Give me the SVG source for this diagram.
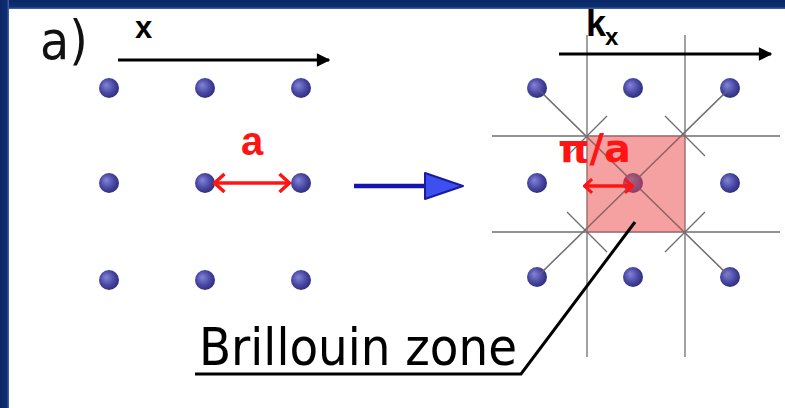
<svg xmlns="http://www.w3.org/2000/svg" width="785" height="408" viewBox="0 0 785 408">
<style>
.dot{fill:url(#dotg)}
.grid{stroke:#6e6e6e;stroke-width:1.3;fill:none}
.lbl{font-family:"Liberation Sans",Arial,sans-serif;font-weight:bold}
.red{fill:#ff1414}
.blk{stroke:#000;stroke-width:3;fill:none}
.redl{stroke:#ff1414;stroke-width:3.5;fill:none}
</style>
<defs>
<radialGradient id="dotg" cx="0.45" cy="0.45" r="0.6" fx="0.35" fy="0.35">
<stop offset="0" stop-color="#8484d8"/>
<stop offset="0.6" stop-color="#4848a4"/>
<stop offset="1" stop-color="#2a2a72"/>
</radialGradient>
<linearGradient id="topg" x1="0" y1="0" x2="0" y2="1">
<stop offset="0" stop-color="#0a2766"/>
<stop offset="0.75" stop-color="#0e2f72"/>
<stop offset="1" stop-color="#4a6aa6"/>
</linearGradient>
<linearGradient id="leftg" x1="0" y1="0" x2="1" y2="0">
<stop offset="0" stop-color="#0a2766"/>
<stop offset="0.75" stop-color="#0e2f72"/>
<stop offset="1" stop-color="#4a6aa6"/>
</linearGradient>
<marker id="ah" viewBox="0 0 10 10" refX="9" refY="5" markerWidth="5" markerHeight="4.5" orient="auto" markerUnits="strokeWidth">
<path d="M0,0 L10,5 L0,10 z" fill="#000"/>
</marker>
<marker id="rh" viewBox="0 0 14 22" refX="12.5" refY="11" markerWidth="14" markerHeight="22" orient="auto-start-reverse" markerUnits="userSpaceOnUse">
<path d="M2,2 L12,11 L2,20" fill="none" stroke="#ff1414" stroke-width="3.5" stroke-linejoin="miter"/>
</marker>
<marker id="rh2" viewBox="0 0 14 22" refX="12.5" refY="11" markerWidth="11" markerHeight="17" orient="auto-start-reverse" markerUnits="userSpaceOnUse">
<path d="M2,2 L12,11 L2,20" fill="none" stroke="#ff1414" stroke-width="4" stroke-linejoin="miter"/>
</marker>
</defs>
<rect x="0" y="0" width="785" height="408" fill="#fff"/>
<rect x="0" y="0" width="785" height="9" fill="url(#topg)"/>
<rect x="0" y="0" width="9" height="408" fill="url(#leftg)"/>

<text x="40" y="59" font-family="DejaVu Sans Condensed,DejaVu Sans,sans-serif" font-size="53" fill="#111">a)</text>

<g id="real-lattice">
<ellipse class="dot" cx="109" cy="88" rx="10" ry="10"/>
<ellipse class="dot" cx="205" cy="88" rx="10" ry="10"/>
<ellipse class="dot" cx="301" cy="88" rx="10" ry="10"/>
<ellipse class="dot" cx="109" cy="183" rx="10" ry="10"/>
<ellipse class="dot" cx="205" cy="183" rx="10" ry="10"/>
<ellipse class="dot" cx="301" cy="183" rx="10" ry="10"/>
<ellipse class="dot" cx="109" cy="280" rx="10" ry="10"/>
<ellipse class="dot" cx="205" cy="280" rx="10" ry="10"/>
<ellipse class="dot" cx="301" cy="280" rx="10" ry="10"/>
</g>

<g id="reciprocal-lattice">
<g class="grid">
<line x1="587" y1="35" x2="587" y2="357"/>
<line x1="685" y1="35" x2="685" y2="357"/>
<line x1="492" y1="136" x2="780" y2="136"/>
<line x1="492" y1="232" x2="780" y2="232"/>
<line x1="537" y1="88" x2="730" y2="277"/>
<line x1="730" y1="88" x2="537" y2="277"/>
<line x1="567" y1="156" x2="607" y2="116"/>
<line x1="665" y1="116" x2="705" y2="156"/>
<line x1="567" y1="212" x2="607" y2="252"/>
<line x1="665" y1="252" x2="705" y2="212"/>
</g>
<ellipse class="dot" cx="537" cy="88" rx="10" ry="10"/>
<ellipse class="dot" cx="633" cy="88" rx="10" ry="10"/>
<ellipse class="dot" cx="730" cy="88" rx="10" ry="10"/>
<ellipse class="dot" cx="537" cy="183" rx="10" ry="10"/>
<ellipse class="dot" cx="633" cy="183" rx="10" ry="10"/>
<ellipse class="dot" cx="730" cy="183" rx="10" ry="10"/>
<ellipse class="dot" cx="537" cy="277" rx="10" ry="10"/>
<ellipse class="dot" cx="633" cy="277" rx="10" ry="10"/>
<ellipse class="dot" cx="730" cy="277" rx="10" ry="10"/>
</g>

<g id="brillouin-zone">
<rect x="587" y="136" width="98" height="96" fill="#ee4a4a" fill-opacity="0.52"/>
<line x1="537" y1="88" x2="730" y2="277" stroke="#6e6e6e" stroke-width="1.3" stroke-opacity="0.6"/>
<line x1="730" y1="88" x2="537" y2="277" stroke="#6e6e6e" stroke-width="1.3" stroke-opacity="0.6"/>
</g>

<g id="connectors">
<line class="blk" x1="118" y1="60" x2="329" y2="60" marker-end="url(#ah)"/>
<line class="blk" x1="559" y1="54" x2="771" y2="54" marker-end="url(#ah)"/>
<line class="redl" x1="214" y1="183" x2="290" y2="183" marker-start="url(#rh)" marker-end="url(#rh)"/>
<line class="redl" x1="584" y1="186" x2="633" y2="186" marker-start="url(#rh2)" marker-end="url(#rh2)"/>
<line x1="354" y1="186" x2="426" y2="186" stroke="#1414b4" stroke-width="4.5"/>
<path d="M425,173 L463,186 L425,199 z" fill="#3c50f0" stroke="#1a1aa0" stroke-width="2" stroke-linejoin="round"/>
<polyline points="195,374 521,374 635,222" fill="none" stroke="#000" stroke-width="3"/>
</g>

<g id="labels">
<text class="lbl" x="135" y="38" font-size="31" fill="#000">x</text>
<text class="lbl red" x="241" y="155" font-size="40">a</text>
<text class="lbl" x="586" y="36" font-size="36" fill="#000">k</text>
<text class="lbl" x="605" y="45" font-size="24" fill="#000">x</text>
<text x="558" y="162" font-family="DejaVu Sans,sans-serif" font-weight="bold" font-size="39" fill="#ff1414" textLength="73" lengthAdjust="spacingAndGlyphs">π/a</text>
<text x="199" y="365" font-family="DejaVu Sans Condensed,DejaVu Sans,sans-serif" font-size="51" fill="#000" textLength="318" lengthAdjust="spacingAndGlyphs">Brillouin zone</text>
</g>
</svg>
